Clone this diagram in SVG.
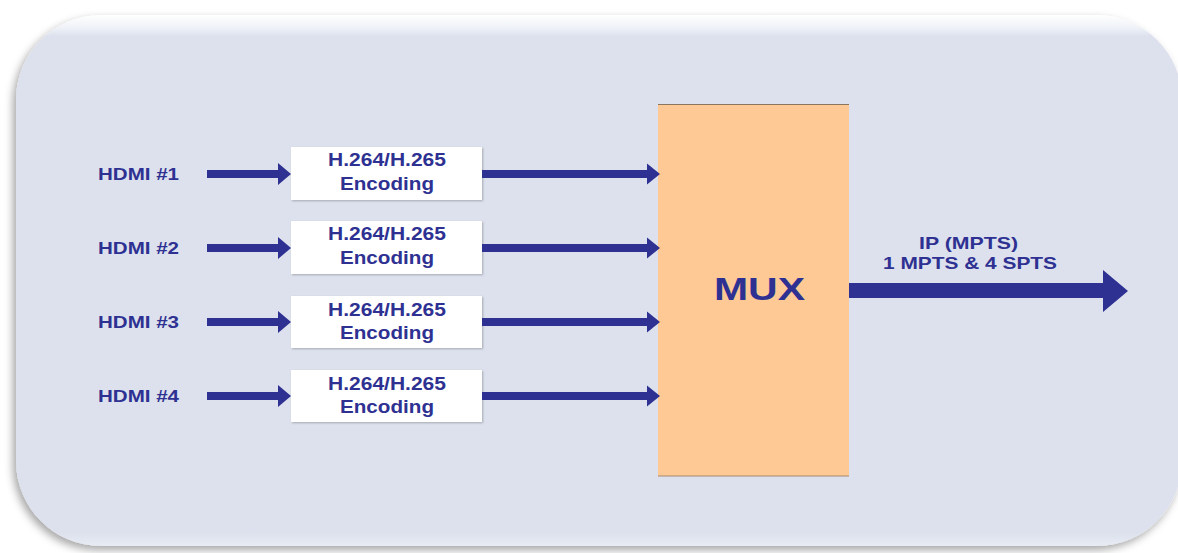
<svg xmlns="http://www.w3.org/2000/svg" width="1178" height="553" viewBox="0 0 1178 553">
  <defs>
    <linearGradient id="panelGrad" gradientUnits="userSpaceOnUse" x1="0" y1="15" x2="0" y2="546">
      <stop offset="0" stop-color="#ffffff"/>
      <stop offset="0.025" stop-color="#eef1f7"/>
      <stop offset="0.04" stop-color="#dce1ed"/>
      <stop offset="0.975" stop-color="#dce1ed"/>
      <stop offset="1" stop-color="#e8ecf4"/>
    </linearGradient>
    <filter id="panelShadow" x="-5%" y="-5%" width="110%" height="112%">
      <feDropShadow dx="-3" dy="4" stdDeviation="4" flood-color="#000000" flood-opacity="0.35"/>
    </filter>
    <filter id="boxShadow" x="-5%" y="-10%" width="110%" height="125%">
      <feDropShadow dx="1" dy="1" stdDeviation="1" flood-color="#000000" flood-opacity="0.25"/>
    </filter>
  </defs>
  <style>
    .lbl { font-family: "Liberation Sans", Arial, sans-serif; font-weight: bold; fill: #2e3192; }
    .enc { fill: #ffffff; }
    .arrow { fill: #2e3192; }
  </style>

  <rect width="1178" height="553" fill="#ffffff"/>

  <g id="panel">
    <rect x="16" y="15" width="1166" height="531" rx="85" ry="85" fill="url(#panelGrad)" filter="url(#panelShadow)"/>
  </g>

  <g id="hdmi1"><text class="lbl" x="98" y="180" font-size="17" textLength="81" lengthAdjust="spacingAndGlyphs">HDMI #1</text></g>
  <g id="hdmi2"><text class="lbl" x="98" y="254" font-size="17" textLength="81" lengthAdjust="spacingAndGlyphs">HDMI #2</text></g>
  <g id="hdmi3"><text class="lbl" x="98" y="328" font-size="17" textLength="81" lengthAdjust="spacingAndGlyphs">HDMI #3</text></g>
  <g id="hdmi4"><text class="lbl" x="98" y="402" font-size="17" textLength="81" lengthAdjust="spacingAndGlyphs">HDMI #4</text></g>

  <g id="enc1">
    <rect class="enc" x="291" y="147" width="191" height="53" filter="url(#boxShadow)"/>
    <text class="lbl" x="328" y="166" font-size="17.5" textLength="118" lengthAdjust="spacingAndGlyphs">H.264/H.265</text>
    <text class="lbl" x="340" y="190" font-size="17.5" textLength="94" lengthAdjust="spacingAndGlyphs">Encoding</text>
  </g>
  <g id="enc2">
    <rect class="enc" x="291" y="221" width="191" height="53" filter="url(#boxShadow)"/>
    <text class="lbl" x="328" y="240" font-size="17.5" textLength="118" lengthAdjust="spacingAndGlyphs">H.264/H.265</text>
    <text class="lbl" x="340" y="264" font-size="17.5" textLength="94" lengthAdjust="spacingAndGlyphs">Encoding</text>
  </g>
  <g id="enc3">
    <rect class="enc" x="291" y="296" width="191" height="52" filter="url(#boxShadow)"/>
    <text class="lbl" x="328" y="316" font-size="17.5" textLength="118" lengthAdjust="spacingAndGlyphs">H.264/H.265</text>
    <text class="lbl" x="340" y="339" font-size="17.5" textLength="94" lengthAdjust="spacingAndGlyphs">Encoding</text>
  </g>
  <g id="enc4">
    <rect class="enc" x="291" y="370" width="191" height="52" filter="url(#boxShadow)"/>
    <text class="lbl" x="328" y="390" font-size="17.5" textLength="118" lengthAdjust="spacingAndGlyphs">H.264/H.265</text>
    <text class="lbl" x="340" y="413" font-size="17.5" textLength="94" lengthAdjust="spacingAndGlyphs">Encoding</text>
  </g>

  <g id="mux">
    <rect x="658" y="104.5" width="191" height="371.5" fill="#fec995"/>
    <line x1="658" y1="104.5" x2="849" y2="104.5" stroke="#8a7560" stroke-width="1"/>
    <line x1="658" y1="476" x2="849" y2="476" stroke="#a88a70" stroke-width="1.2"/>
    <text class="lbl" x="714" y="300" font-size="31" textLength="91" lengthAdjust="spacingAndGlyphs">MUX</text>
  </g>

  <g id="output-label">
    <text class="lbl" x="919" y="249" font-size="16.5" textLength="99" lengthAdjust="spacingAndGlyphs">IP (MPTS)</text>
    <text class="lbl" x="883" y="269" font-size="16.5" textLength="174" lengthAdjust="spacingAndGlyphs">1 MPTS &amp; 4 SPTS</text>
  </g>

  <g id="connectors">
    <polygon class="arrow" points="207,170 278,170 278,163 291,174 278,185 278,178 207,178"/>
    <polygon class="arrow" points="207,244 278,244 278,237 291,248 278,259 278,252 207,252"/>
    <polygon class="arrow" points="207,318 278,318 278,311 291,322 278,333 278,326 207,326"/>
    <polygon class="arrow" points="207,392 278,392 278,385 291,396 278,407 278,400 207,400"/>

    <polygon class="arrow" points="482,170 647,170 647,163.5 660,174 647,184.5 647,178 482,178"/>
    <polygon class="arrow" points="482,244 647,244 647,237.5 660,248 647,258.5 647,252 482,252"/>
    <polygon class="arrow" points="482,318 647,318 647,311.5 660,322 647,332.5 647,326 482,326"/>
    <polygon class="arrow" points="482,392 647,392 647,385.5 660,396 647,406.5 647,400 482,400"/>

    <polygon class="arrow" points="849,283 1103,283 1103,270 1128,291 1103,312 1103,298 849,298"/>
  </g>
</svg>
